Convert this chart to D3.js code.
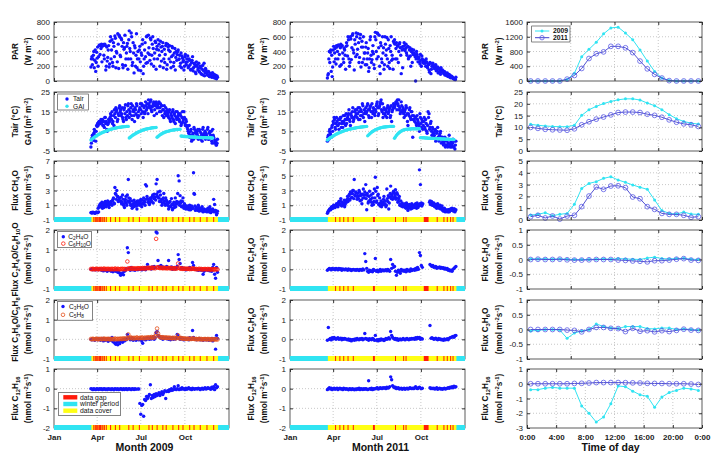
<!DOCTYPE html>
<html><head><meta charset="utf-8">
<script src="https://cdn.jsdelivr.net/npm/d3@7"></script>
<style>body{margin:0;background:#fff}svg{display:block;background:#fff}</style>
</head><body><svg id="c" width="720" height="468"></svg>
<script>
// ---------------- DATA ----------------
const monthTickDays=[0,90,181,273];
const monthTickLabels=["Jan","Apr","Jul","Oct"];
const hourTicks=[0,4,8,12,16,20,24];
const hourTickLabels=["0:00","4:00","8:00","12:00","16:00","20:00","0:00"];

const days09=[77,79,81,83,85,87,89,91,93,95,97,99,101,103,105,107,109,111,113,115,117,119,121,123,125,127,129,131,133,135,137,139,141,143,145,147,149,151,153,155,157,159,161,163,165,167,169,171,173,175,177,179,181,183,185,187,189,191,193,195,197,199,201,203,205,207,209,211,213,215,217,219,221,223,225,227,229,231,233,235,237,239,241,243,245,247,249,251,253,255,257,259,261,263,265,267,269,271,273,275,277,279,281,283,285,287,289,291,293,295,297,299,301,303,305,307,309,311,313,315,317,319,321,323,325,327,329,331,333,335,337,339,341];
const days09b=[78,80,82,84,86,88,90,92,94,96,98,100,102,104,106,108,110,112,114,116,118,120,122,124,126,128,130,132,134,136,138,140,142,144,146,148,150,152,154,156,158,160,162,164,166,168,170,172,174,176,178,180,182,184,186,188,190,192,194,196,198,200,202,204,206,208,210,212,214,216,218,220,222,224,226,228,230,232,234,236,238,240,242,244,246,248,250,252,254,256,258,260,262,264,266,268,270,272,274,276,278,280,282,284,286,288,290,292,294,296,298,300,302,304,306,308,310,312,314,316,318,320,322,324,326,328,330,332,334,336,338,340];
const days11=[78,80,82,84,86,88,90,92,94,96,98,100,102,104,106,108,110,112,114,116,118,120,122,124,126,128,130,132,134,136,138,140,142,144,146,148,150,152,154,156,158,160,162,164,166,168,170,172,174,176,178,180,182,184,186,188,190,192,194,196,198,200,202,204,206,208,210,212,214,216,218,220,222,224,226,228,230,232,234,236,238,240,242,244,246,248,250,252,254,256,258,260,262,264,266,268,270,272,274,276,278,280,282,284,286,288,290,292,294,296,298,300,302,304,306,308,310,312,314,316,318,320,322,324,326,328,330,332,334,336,338,340,342,344,346];
const days11b=[79,81,83,85,87,89,91,93,95,97,99,101,103,105,107,109,111,113,115,117,119,121,123,125,127,129,131,133,135,137,139,141,143,145,147,149,151,153,155,157,159,161,163,165,167,169,171,173,175,177,179,181,183,185,187,189,191,193,195,197,199,201,203,205,207,209,211,213,215,217,219,221,223,225,227,229,231,233,235,237,239,241,243,245,247,249,251,253,255,257,259,261,263,265,267,269,271,273,275,277,279,281,283,285,287,289,291,293,295,297,299,301,303,305,307,309,311,313,315,317,319,321,323,325,327,329,331,333,335,337,339,341,343,345];

const par09=[190,330,300,400,280,130,390,460,330,490,480,500,470,495,300,480,200,270,420,190,540,300,560,200,470,610,180,380,640,170,600,330,560,220,520,450,210,380,510,300,680,400,650,210,520,110,450,350,180,400,300,470,140,350,560,200,420,330,600,250,620,360,580,230,500,440,300,540,160,470,560,500,200,460,400,520,300,250,480,160,500,420,480,260,330,450,200,380,150,400,360,420,300,200,380,340,260,150,330,250,300,340,200,280,150,250,330,180,230,120,260,220,170,130,200,100,160,80,240,110,150,100,80,120,60,90,50,110,70,40,80,30,50];
const par09b=[300,220,350,180,420,250,310,200,480,360,440,260,490,350,500,150,460,320,480,230,600,420,250,520,330,580,400,260,500,620,350,580,470,180,430,620,300,470,160,560,440,300,600,250,380,480,200,640,300,150,420,260,380,500,100,300,520,240,610,380,450,280,560,350,600,200,380,520,430,300,420,350,540,270,470,180,430,360,510,220,460,300,400,180,470,350,250,440,320,280,400,290,350,240,180,310,280,200,360,220,260,180,300,220,160,280,140,240,200,100,200,150,240,120,180,90,210,140,70,170,120,80,130,60,100,70,110,50,90,60,40,70];
const tair09=[-3,1.5,2,4,5,0,8,9,9.5,10,9,10.5,11,8,7,12,10,5,9,11,12,13,15,10,8,14,17,16,11,13,18,16,14,12,10,17,18.5,11,13,19,12,15,19,11,16,13,17,14,18,12,13,17,16,19,15,18,14,20,16,17,21,18,20,16,17.5,19,13,18,20,17,19,20,17,15,18,16,12,14,17,15,14,12,16,10,13,15,11,14,9,12,15,13,11,14,8,12,10,15,9,11,8,6,4,2,5,0,3,1,6,4,5,3,1,6,2,4,0,7,3,5,4,2,7,1,5,3,0,6,2,-1,0,-2,1];
const tair09b=[-1,3,0.5,6,3,5,7.5,8,10,9,11,9.5,8,10,12,9,6,8.5,11,10,14,11,9,13,16,12,15,10,14,17,15,13,17,11,16,14,12,15,18,16,14,17,13,18,15,10,16,19,13,15,16,19,14,18,12,17,15,18,19,14,19,17,21,15,18,20,16,19,14,18,17,15,19,18,13,16,18,15,13,16,13,15,11,14,12,16,10,13,15,11,12,14,10,13,9,15,11,12,8,10,7,5,8,3,6,1,4,7,2,5,4,6,2,5,1,3,6,2,4,1,3,6,1,4,2,5,-1,3,1,0,-2,-1];
const gai09=[0.6,1.0,1.4,1.8,2.1,2.5,2.8,3.1,3.4,3.7,3.9,4.2,4.4,4.6,4.8,5.0,5.2,5.4,5.6,5.8,5.9,6.1,6.2,6.4,6.5,6.6,6.7,6.8,6.9,7.0,7.1,7.1,7.2,7.3,7.3,7.4,7.4,7.5,7.5,7.5,1.6,2.0,2.4,2.8,3.1,3.4,3.7,4.0,4.3,4.5,4.8,5.0,5.2,5.4,5.6,5.8,5.9,6.1,6.2,6.3,6.4,6.5,6.6,6.7,6.8,6.8,6.9,6.9,7.0,2.0,2.4,2.8,3.2,3.5,3.8,4.1,4.3,4.5,4.7,4.9,5.0,5.1,5.3,5.4,5.5,5.6,5.7,5.8,5.8,5.9,5.9,6.0,6.0,6.1,2.6,2.5,2.5,2.4,2.4,2.3,2.3,2.3,2.2,2.2,2.2,2.1,2.1,2.1,2.0,2.0,2.0,2.0,1.9,1.9,1.9,1.9,1.8,1.8,1.8,1.8,1.8,1.7,1.7,1.7,1.7,1.7,1.6,1.6,null,null,null,null,null];
const ch4o09=[0,-0.05,0.05,0,-0.1,0,0.05,0,0.1,0.8,1.2,0.9,0.6,1.3,1.0,1.5,0.8,1.1,1.4,0.7,1.2,1.5,1.0,1.8,1.3,3.4,2.5,3.0,2.2,1.6,2.0,1.5,1.2,2.4,1.0,0.7,1.8,1.3,2.4,4.5,1.5,1.9,1.0,0.6,1.2,1.7,0.9,1.4,0.5,1.1,1.6,1.2,1.8,0.8,1.3,2.0,1.4,3.8,3.6,1.9,1.5,1.1,2.0,1.6,2.2,1.3,2.5,2.1,3.9,4.5,2.8,2.0,2.9,1.5,1.0,1.8,2.6,1.2,2.0,1.6,1.0,0.5,1.4,0.8,1.9,0.4,1.1,0.7,2.0,1.3,1.2,5.0,4.3,2.3,1.6,0.9,2.0,0.6,1.0,0.5,0.8,0.5,0.6,1.0,0.4,0.9,0.6,5.4,2.5,0.3,0.7,0.4,1.0,0.2,0.6,0.3,0.8,0.1,0.5,0.2,0.4,0.1,0.6,0.3,0.8,0,0.2,0.5,1.8,1.1,0.3,-0.3,0.2];
const ch4o09b=[0.02,-0.02,0.03,0,-0.05,0.05,0,0.6,0.9,1.1,0.8,1.4,1.0,0.7,1.2,0.9,1.3,1.6,1.0,1.2,1.4,1.1,1.6,2.0,1.2,2.6,1.8,2.2,1.5,1.9,1.6,2.1,1.4,1.8,1.1,1.5,2.2,1.0,1.6,2.0,1.3,1.0,1.6,1.1,0.8,1.4,1.2,0.9,1.6,1.3,1.0,1.5,1.1,1.7,1.2,1.6,1.0,1.8,2.2,1.4,1.8,1.3,1.9,1.5,2.4,1.9,2.0,1.7,2.5,2.2,2.0,1.5,2.4,1.8,1.3,2.0,1.5,1.0,1.7,1.3,1.2,0.8,1.5,0.9,1.1,0.6,1.4,1.0,0.8,1.5,2.6,1.4,1.0,1.3,0.8,1.5,0.9,1.2,0.7,0.9,0.6,0.9,0.4,0.7,0.5,0.8,0.6,2.6,0.9,0.5,0.5,0.3,0.7,0.4,0.3,0.6,0.2,0.4,0.3,0.2,0.3,0.2,0.4,0.1,0.5,0.2,0.3,0.2,0.1,0.3,0.1,-0.1];
const c2h4o09=[0,0.02,-0.02,0,0.03,-0.03,0.01,0,-0.02,0.02,0,-0.05,0.02,-0.08,-0.03,0,-0.06,-0.1,-0.04,0.01,-0.05,-0.1,-0.04,-0.12,-0.08,-0.05,-0.1,-0.02,-0.15,-0.08,-0.2,-0.3,-0.25,-0.18,-0.28,-0.1,-0.05,0.05,1.1,0.85,0.05,-0.05,0.1,0,-0.03,0.02,-0.05,0,0.03,-0.02,0,0.02,0.05,-0.03,0.05,0,0.1,-0.02,0.08,0.25,0.05,0.08,0.1,0.02,0.12,0.05,0.15,0.08,1.9,1.85,0.45,0.15,0.1,0.2,0.05,0.12,0.08,0.1,0.05,0.15,0.1,0.45,0.05,0.08,0.12,0,0.05,0.1,0.02,0.06,0.15,0.75,0.5,0.3,0.05,0.1,0.02,0.05,0,-0.03,0.05,0,0.02,0.1,0.05,0,0.35,0.2,0.03,0,-0.02,0,-0.05,-0.03,0,-0.05,0.02,-0.25,-0.1,0,-0.03,0,-0.05,0.02,-0.08,0,-0.1,0.1,0.25,-0.25,-0.45,0.1,-0.15];
const c6h10o09=[0.02,0,0.03,0.01,0,0.02,0.03,0,0.01,0.02,0.01,0.03,0,0.02,0.04,0,0.02,0.01,0.03,0,0.02,0,0.03,0.01,0,0.04,0.02,0,0.03,0.01,0,0.02,0.01,0.03,0,0.02,0.01,0,0.4,0.05,0.03,0.05,0.02,0.06,0.04,0.03,0.05,0.02,0.04,0.06,0.05,0.03,0.06,0.04,0.07,0.05,0.03,0.06,0.05,0.08,0.06,0.08,0.05,0.07,0.09,0.06,0.08,0.05,1.55,0.1,0.1,0.08,0.06,0.09,0.07,0.05,0.08,0.06,0.07,0.05,0.06,0.08,0.05,0.07,0.04,0.06,0.05,0.03,0.06,0.04,0.05,0.3,0.08,0.04,0.03,0.05,0.02,0.04,0.03,0.02,0.03,0.02,0.04,0.01,0.03,0.02,0.05,0.03,0.02,0.01,0.02,0,0.01,0.03,0,0.02,-0.01,0.01,0,0.02,0.01,-0.01,0.02,0,0.01,-0.02,0,0.01,-0.01,0,0,0.01,-0.01];
const c3h6o09=[0,-0.03,0.02,0,-0.05,0.03,0,-0.02,0.05,0,-0.05,0,0.05,-0.08,0.02,-0.05,0,0.03,-0.1,0.05,0,-0.05,0.1,-0.12,-0.05,-0.2,-0.25,-0.15,-0.28,-0.1,-0.22,-0.1,-0.05,-0.15,0,-0.08,0.05,-0.02,0.25,0.1,0.05,-0.02,0,0.08,-0.05,0.03,0,-0.05,0.02,0,-0.03,0.05,0,-0.08,-0.2,0.02,0.05,-0.03,0,0.08,0.05,0,0.1,0.02,0.05,0.15,0,0.08,0.35,0.4,0.2,0.15,0.1,0.05,0.12,0,0.08,0.05,0.1,0.03,0.05,0,0.08,-0.02,0.05,0.1,0,0.05,0.02,0.08,0.25,0.15,0.05,0,0.08,0.02,0.05,-0.03,0,0.05,0,0.05,-0.02,0.08,0.03,0,0.45,0.1,0.02,0,-0.02,0.03,0,0.05,-0.03,0,0.02,-0.05,0,0.03,-0.03,0,0.02,-0.05,0,-0.02,0.05,-0.08,0,0.05,-0.5,0.2,0.05];
const c5h809=[0.02,0,0.03,0.01,0,0.02,0.03,0,0.01,0.02,0.01,0.03,0,0.02,0.04,0,0.02,0.01,0.03,0,0.02,0,0.03,0.01,0,0.04,0.02,0,0.03,0.01,0.02,0.04,0.01,0.03,0.05,0.02,0.04,0.03,0.05,0.25,0.08,0.05,0.1,0.06,0.04,0.08,0.05,0.07,0.1,0.06,0.05,0.08,0.06,0.1,0.07,0.05,0.09,0.06,0.08,0.1,0.08,0.1,0.07,0.12,0.09,0.11,0.08,0.15,0.3,0.55,0.3,0.15,0.12,0.1,0.08,0.11,0.09,0.07,0.1,0.08,0.07,0.09,0.06,0.08,0.05,0.07,0.06,0.08,0.05,0.06,0.08,0.2,0.06,0.05,0.07,0.04,0.05,0.03,0.04,0.02,0.03,0.02,0.04,0.01,0.03,0.02,0.05,0.03,0.02,0.01,0.02,0,0.01,0.03,0,0.02,-0.01,0.01,0,0.02,0.01,-0.01,0.02,0,0.01,-0.02,0,0.01,-0.01,0,0,0.01,-0.01];
const c12h1609=[0,-0.02,-0.05,0,-0.03,-0.05,0,-0.02,-0.04,0,-0.03,0,-0.05,-0.02,0,-0.04,-0.01,-0.05,0,-0.03,-0.02,-0.05,0,-0.03,-0.06,0,-0.02,-0.04,0,-0.05,-0.03,0,-0.02,-0.05,0,-0.04,-0.02,0,-0.05,-0.01,0,-0.03,-0.05,0,-0.02,-0.04,0,-0.03,null,-0.02,-0.02,-0.75,-1.3,-0.85,-0.8,-1.4,-0.55,-0.6,-0.4,-0.5,-0.4,-0.3,0.2,-0.5,-0.35,-0.45,-0.3,-0.4,-0.25,-0.35,-0.3,-0.2,-0.35,-0.25,-0.15,-0.3,-0.2,-0.1,-0.5,-0.15,-0.1,-0.15,-0.05,-0.1,0,-0.08,-0.05,0.1,-0.03,-0.05,0,0.15,-0.05,0,-0.03,0.05,-0.02,0,-0.05,0.02,-0.03,0,0.05,-0.02,0,-0.05,0.02,0,-0.03,0,0,-0.02,0.03,0,-0.05,0,0.02,-0.03,0,0.05,-0.02,0,0.05,0.02,0,-0.03,0.08,0,0.1,-0.05,0.2,0.05,0.1];

const par11=[40,100,400,390,130,60,420,260,440,230,460,300,480,200,500,470,380,250,420,160,520,340,560,200,600,290,620,420,150,500,650,360,640,250,580,190,540,460,300,380,460,220,380,130,300,600,250,400,370,170,660,400,650,330,620,100,480,250,380,160,600,350,590,200,440,170,400,280,300,540,560,300,520,480,250,500,450,100,420,470,520,410,500,350,470,320,450,200,430,380,420,360,0,400,330,300,260,360,200,300,280,260,240,300,200,230,150,250,100,200,240,200,180,220,150,190,120,170,90,140,150,120,130,100,80,110,60,90,50,70,60,40,30,20,50];
const par11b=[80,300,250,420,350,190,470,380,300,480,400,490,360,450,220,480,300,440,350,470,480,600,300,250,570,450,640,380,560,330,600,430,520,320,630,460,250,600,380,220,520,300,440,180,560,350,290,480,220,600,560,300,640,450,200,520,300,600,450,220,500,420,300,560,250,480,600,350,160,520,500,440,300,470,400,520,350,460,180,430,480,440,380,460,300,420,340,400,250,360,380,330,300,360,260,320,230,280,340,250,240,280,200,260,180,220,120,240,160,210,200,170,210,140,180,110,160,130,180,120,120,100,80,110,70,90,60,80,45,60,40,30,35,20];
const tair11=[0,3,5,4,2,8,10,12,7,9,10,8,6,11,12,9,7,10,13,8,9,12,14,11,8,13,15,10,12,16,14,12,17,15,11,16,13,18,14,10,17,15,19,13,16,18,12,15,17,14,16,18,20,13,17,19,21,15,12,17,14,16,12,18,15,17,13,10,16,19,17,19,20,21,18,16,14,20,15,17,12,16,18,14,8,13,17,11,15,2,13,10,12,8,11,9,5,12,7,10,8,12,6,9,4,15,14,7,10,3,6,2,5,0,4,7,1,3,5,-1,2,-2,0,-3,1,-2,-1,3,-3,0,-2,1,-3,-4,0];
const tair11b=[2,1,6,3,7,5,9,11,6,12,8,11,9,12,7,10,13,9,11,14,11,13,16,10,14,12,17,11,15,13,16,14,11,17,13,15,19,12,16,15,14,18,16,12,17,15,19,14,16,13,15,19,17,14,18,20,16,19,14,16,13,15,17,14,16,12,18,15,17,18,18,20,16,19,21,17,15,18,16,14,15,13,17,10,14,16,12,15,13,11,11,12,9,13,10,8,14,9,11,6,10,7,11,5,8,12,6,9,5,7,4,3,6,1,5,2,0,4,2,1,0,-1,2,-2,0,-3,1,-2,-1,-3,-1,-3,0,-2];
const gai11=[0.6,1.0,1.4,1.7,2.0,2.3,2.6,2.9,3.2,3.5,3.7,4.0,4.2,4.4,4.6,4.8,5.0,5.2,5.4,5.5,5.7,5.8,6.0,6.1,6.2,6.3,6.4,6.5,6.6,6.7,6.8,6.9,7.0,7.0,7.1,7.2,7.2,7.3,7.3,7.4,7.4,7.5,2.7,3.2,3.7,4.1,4.5,4.9,5.2,5.5,5.8,6.0,6.2,6.4,6.6,6.7,6.9,7.0,7.1,7.2,7.2,7.3,7.3,7.4,7.4,7.5,7.5,7.5,7.5,7.5,1.5,2.2,2.9,3.5,4.0,4.4,4.8,5.1,5.4,5.6,5.8,5.9,6.0,6.1,6.1,6.2,6.2,6.2,6.3,6.3,6.3,6.3,6.3,6.3,6.3,6.3,6.3,1.8,1.8,1.7,1.7,1.7,1.6,1.6,1.6,1.5,1.5,1.5,1.4,1.4,1.4,1.4,1.3,1.3,1.3,1.2,1.2,1.2,1.2,1.1,1.1,1.1,1.1,1.0,1.0,1.0,1.0,0.9,0.9,0.9,0.9,0.9,0.8,null,null];
const ch4o11=[-0.1,0.2,0.4,0.5,0.7,0.6,0.8,0.9,0.7,1.0,1.0,0.8,1.5,1.2,1.9,0.9,1.1,1.3,0.8,1.6,1.4,2.2,1.9,2.5,2.8,2.0,2.6,3.0,4.5,2.3,2.7,1.8,2.2,3.0,1.6,2.5,1.2,2.0,2.4,2.8,3.8,0.4,2.3,1.5,2.9,1.8,1.4,2.0,1.1,3.2,4.8,1.4,3.4,2.5,1.2,0.9,1.6,1.0,1.4,2.2,1.2,0.8,3.2,1.5,0.5,2.1,3.6,2.4,1.8,2.9,2.6,3.1,2.0,2.5,1.5,2.2,1.1,0.9,1.3,1.0,0.8,1.2,0.6,1.1,0.3,1.0,0.9,0.5,1.2,0.8,1.0,0.7,1.2,0.6,1.1,0.9,5.8,3.8,1.3,1.1,null,null,null,null,null,null,null,1.6,1.2,1.4,1.0,1.3,0.8,1.1,0.6,1.2,0.7,0.9,0.5,0.8,0.4,0.2,0.6,0.1,0.3,0.2,0.4,0.1,0.3,0.5,0.6,0.3,0.5,0.1,0.4];
const ch4o11b=[0.1,0.3,0.5,0.4,0.8,0.6,1.0,0.7,0.9,1.2,0.9,1.3,1.1,1.6,1.0,1.4,1.2,1.7,1.1,1.5,1.8,1.5,2.3,1.7,2.6,2.1,3.0,1.9,2.4,2.8,2.2,2.6,1.9,2.8,2.3,1.7,2.5,3.2,2.0,2.4,1.9,2.6,1.3,2.2,1.7,2.4,1.0,2.6,1.5,2.0,2.9,1.6,2.3,1.1,2.0,1.3,0.8,1.2,1.8,1.1,1.6,1.0,1.9,2.3,1.3,2.6,1.9,2.2,2.7,2.0,2.3,1.8,2.7,1.4,1.9,1.0,1.6,1.2,0.8,1.1,1.0,0.7,1.3,0.9,0.6,1.1,0.8,1.0,0.6,0.9,0.8,1.1,0.9,1.3,0.7,1.0,1.2,1.0,0.9,1.2,null,null,null,null,null,null,1.4,1.1,1.5,1.0,1.2,0.9,1.0,0.7,1.1,0.8,0.6,1.0,0.7,0.9,0.3,0.5,0.2,0.4,0.3,0.1,0.4,0.2,0.5,0.3,0.4,0.2,0.5,0.3];
const c2h4o11=[-0.05,0,0.05,0.02,-0.03,0.05,0,0.03,-0.02,0.05,0.02,-0.03,0.05,0,0.03,-0.05,0.02,0,-0.03,0.02,0,-0.05,0.02,-0.03,0,-0.06,-0.02,0,-0.04,-0.02,-0.05,0,-0.03,-0.06,0,-0.02,-0.05,0.02,-0.03,0.8,0.4,0.05,-0.1,-0.15,-0.05,-0.1,-0.08,-0.12,0,-0.05,0.55,-0.1,-0.05,-0.12,-0.08,0,-0.1,-0.05,-0.03,-0.08,-0.05,-0.02,-0.08,0,-0.05,-0.1,0.5,0.05,0.25,0.1,0.15,-0.1,-0.3,-0.15,-0.05,-0.1,-0.2,0,-0.08,-0.05,-0.1,-0.05,-0.12,0,-0.08,-0.05,-0.1,0.02,-0.06,-0.03,0,-0.05,0.05,-0.02,0.1,0,0.85,0.7,0.2,0.1,null,null,null,null,null,null,null,0.25,0.2,0.15,0.2,0.1,0.12,0.15,0.05,0.1,0.08,0.12,0.05,0.1,0.05,0.08,0.02,0.06,0,0.04,-0.05,-0.02,-0.08,-0.05,-0.1,0,0.05,0.1,0.15];
const c3h6o11=[-0.05,0.6,0,0.05,-0.03,0.08,0.02,0.1,0.05,0,0.05,0.08,0,0.03,0.06,-0.02,0.05,0,0.04,0.02,0,-0.03,0.02,-0.05,0,-0.08,-0.02,0,-0.05,0.02,-0.03,0.05,0,-0.02,0.03,0,0.05,-0.02,0.02,0.3,0.05,0,0.02,-0.05,0.03,0,-0.02,0.05,0.02,-0.05,0.2,-0.05,-0.02,-0.08,0,-0.05,0.02,-0.03,0,-0.06,-0.02,0.05,0,0.03,0.08,0.02,0.4,0.2,0.1,0.05,0,0.05,-0.02,0.03,-0.05,0,0.02,-0.03,0,0.05,0,-0.03,0.02,0.05,0,-0.02,0.03,0,0.05,0.02,0.05,0,0.08,0.02,0.1,0.05,0.1,0,0.05,0.02,null,null,null,null,null,null,null,0.7,0.05,0.08,0.05,0,0.03,0.06,0,-0.02,0.04,0,0.02,-0.03,0,-0.05,0.02,-0.03,0,0.03,-0.02,0.05,0.08,0.1,0.12,0.15,0.1,0.18,0.2];
const c12h1611=[-0.05,0,0.05,-0.02,0.03,-0.05,0,0.02,-0.03,0,0.02,-0.05,0,0.03,-0.02,0,-0.05,0.02,0,-0.03,0,-0.03,-0.06,0,-0.02,-0.05,0,-0.03,-0.06,-0.02,-0.05,0,-0.03,0.02,-0.05,0,-0.02,-0.04,0,-0.03,0,-0.02,-0.05,0.4,0,-0.03,0.02,-0.05,0,-0.02,0,0.03,0.05,-0.02,0,0.05,0.02,0,0.05,0.03,0.05,0,0.08,0.03,0.05,0.1,0.6,0.45,0.15,0.1,0.05,0.08,0,0.03,0.05,-0.02,0,0.03,-0.03,0,0.02,-0.03,0,0.03,-0.02,0,0.05,0.02,0,0.03,0,0.05,0.1,0.02,0,0.05,0.08,0.03,0,0.02,null,null,null,null,null,null,null,0.05,0,0.03,0,0.03,-0.02,0,0.05,-0.03,0,0.02,-0.02,0,-0.03,0,0.02,-0.02,0,0.03,0.05,0.02,0.08,0.05,0.1,0.05,0.12,0.08,0.1];

// data coverage bands: data-cover bounds (outside = winter period) and data gaps (start day, length in days)
const cover09=[78,342];
const cover11=[79,347];
const gapStart09=[82,85,87,89,91,94,96,99,101,104,108,117,127,136,155,164,177,197,204,214,226,233,247,259,268,282,291,304,318,332];
const gapLen09=[1,1,1,1,1,1,1,1,1,1,1,1,2,1,1,1,2,1,1,1,1,1,1,1,1,1,1,2,1,1];
const gapStart11=[94,103,111,120,131,173,219,236,241,279,306,320,327,334,339];
const gapLen11=[1,1,1,1,1,4,2,1,1,10,1,1,1,1,1];

// diurnal cycles
const hours=[0.5,1.5,2.5,3.5,4.5,5.5,6.5,7.5,8.5,9.5,10.5,11.5,12.5,13.5,14.5,15.5,16.5,17.5,18.5,19.5,20.5,21.5,22.5,23.5];
const parD09=[0,0,0,0,0,40,210,660,860,1050,1280,1440,1460,1300,1120,840,540,260,80,15,0,0,0,0];
const parD11=[0,0,0,0,0,50,150,340,610,740,790,940,940,900,770,540,330,180,80,10,0,0,0,0];
const tairD09=[11.3,10.9,10.6,10.4,10.3,10.3,10.9,15.1,17.5,18.9,20.1,21.0,21.7,22.1,22.1,21.6,20.3,19.2,17.5,15.4,13.7,12.5,11.8,11.4];
const tairD11=[10.0,9.6,9.2,9.0,8.9,8.8,9.4,11.1,12.4,13.5,14.4,15.3,16.3,16.5,16.5,16.3,15.6,15.1,14.3,13.2,12.2,11.5,11.1,10.4];
const ch4oD09=[0.42,0.48,0.62,0.37,0.48,0.56,1.33,2.68,3.1,3.25,3.53,3.67,3.39,3.19,2.97,2.77,2.6,1.7,0.8,0.56,0.5,0.68,0.5,0.48];
const ch4oD11=[0.28,0.4,0.17,0.34,0.08,0.34,0.4,1.13,2.03,2.8,2.6,2.88,2.9,2.74,1.95,1.8,1.13,0.9,0.56,0.48,0.48,0.4,0.23,0.28];
const c2h4oD09=[0.02,0.02,0.02,0.01,0.02,0.01,0,0,0,0.01,0.02,0.01,0.03,0.02,0.01,0,0.05,0.08,0.03,0.02,0.03,0.04,0.01,0];
const c2h4oD11=[0,0.01,0,0,0.01,-0.01,-0.02,-0.02,-0.01,0,0,0,-0.02,-0.03,-0.05,-0.06,-0.08,-0.04,-0.04,-0.02,0.01,0.03,-0.02,-0.03];
const c3h6oD09=[-0.05,-0.03,0,0,-0.02,-0.3,-0.12,-0.05,0,0.19,0.1,0.05,0.03,0.1,0.1,0.1,0.03,0.02,0.05,0.05,0,0.02,0,-0.02];
const c3h6oD11=[0,0,0,0,0,-0.02,-0.03,-0.08,0,0.07,0.07,0.04,0.03,-0.07,0.04,-0.06,-0.04,-0.08,-0.04,-0.07,-0.03,0.01,-0.02,-0.03];
const c12h16D09=[-0.4,-0.4,-0.3,-0.25,-0.3,-0.3,-0.3,-1.5,-2.0,-2.6,-2.25,-1.35,-0.15,-0.2,-0.5,-0.75,-0.85,-1.6,-0.9,-0.6,-0.45,-0.3,-0.35,-0.45];
const c12h16D11=[0,0,0,0,0,0,0.02,0.03,0.05,0.08,0.08,0.08,0.08,0.07,0.06,0.05,0.03,0.02,0.02,0,0,0,-0.02,-0.05];

// ---------------- DRAWING ----------------
const FONT='"Liberation Sans", Arial, Helvetica, sans-serif';
const BLUE="#1414ff", CYAN="#30e4f2", RED="#ff1a0a", ORANGE="#e4501c", YEL="#ffff14";
const D_BLUE="#4040cc";
const svg=d3.select("#c");
const colX=[54,290,527], colW=175, rowY=[22,92,161,230,300,369], rowH=59;
const xDay=d3.scaleLinear().domain([0,365]).range([0,colW]);
const xHour=d3.scaleLinear().domain([0,24]).range([0,colW]);

function rich(t,str){
  const fs=+t.attr("font-size");
  str.split(/(_\{[^}]*\}|\^\{[^}]*\})/).filter(s=>s.length).forEach(p=>{
    if(p.startsWith("_{")) t.append("tspan").attr("font-size",fs*0.72).attr("baseline-shift",-fs*0.22).text(p.slice(2,-1));
    else if(p.startsWith("^{")) t.append("tspan").attr("font-size",fs*0.72).attr("baseline-shift",fs*0.42).text(p.slice(2,-1));
    else t.append("tspan").text(p);
  });
}

function panel(col,row,cfg){
  const g=svg.append("g").attr("transform",`translate(${colX[col]},${rowY[row]})`);
  const x=cfg.x, y=d3.scaleLinear().domain(cfg.yDom).range([rowH,0]);
  const gg=g.append("g").attr("stroke","#b0b0b0").attr("stroke-width",0.7).attr("stroke-dasharray","1,2");
  cfg.yTicks.filter(v=>v>cfg.yDom[0]&&v<cfg.yDom[1]).forEach(v=>gg.append("line").attr("x1",0).attr("x2",colW).attr("y1",y(v)).attr("y2",y(v)));
  cfg.xGrid.forEach(v=>gg.append("line").attr("x1",x(v)).attr("x2",x(v)).attr("y1",0).attr("y2",rowH));
  return {g,x,y,cfg,col,row};
}

function finish(p){
  const {g,x,y,cfg}=p;
  g.append("rect").attr("width",colW).attr("height",rowH).attr("fill","none").attr("stroke","#333").attr("stroke-width",0.8);
  const ay=g.append("g").call(d3.axisLeft(y).tickValues(cfg.yTicks).tickSizeInner(-3).tickSizeOuter(0).tickPadding(4).tickFormat(d=>String(d)));
  ay.select(".domain").remove();
  ay.selectAll("line").attr("stroke","#333");
  ay.selectAll("text").attr("font-size",8).attr("fill","#222").attr("font-family",FONT);
  const ar=g.append("g").attr("transform",`translate(${colW},0)`).call(d3.axisRight(y).tickValues(cfg.yTicks).tickSizeInner(-3).tickSizeOuter(0).tickFormat(""));
  ar.select(".domain").remove(); ar.selectAll("line").attr("stroke","#333");
  const at=g.append("g").call(d3.axisTop(x).tickValues(cfg.xTicks).tickSizeInner(-3).tickSizeOuter(0).tickFormat(""));
  at.select(".domain").remove(); at.selectAll("line").attr("stroke","#333");
  const ab=g.append("g").attr("transform",`translate(0,${rowH})`).call(d3.axisBottom(x).tickValues(cfg.xTicks).tickSizeInner(-3).tickSizeOuter(0).tickPadding(6).tickFormat(cfg.xLabels?((d,i)=>cfg.xLabels[i]):""));
  ab.select(".domain").remove(); ab.selectAll("line").attr("stroke","#333");
  ab.selectAll("text").attr("font-size",8).attr("font-weight","bold").attr("fill","#222").attr("font-family",FONT);
}

function dots(p,days,vals,color,r,open){
  const data=days.map((d,i)=>[d,vals[i]]).filter(v=>v[1]!=null);
  const s=p.g.append("g").selectAll("circle").data(data).join("circle")
    .attr("cx",d=>p.x(d[0])).attr("cy",d=>p.y(d[1])).attr("r",r);
  if(open) s.attr("fill","none").attr("stroke",color).attr("stroke-width",0.8);
  else s.attr("fill",color);
}

function band(p,cover,gs,gl){
  const g=p.g.append("g"), by=rowH-3, bh=5, x=p.x;
  g.append("rect").attr("x",0).attr("y",by).attr("width",colW).attr("height",bh).attr("fill",CYAN);
  g.append("rect").attr("x",x(cover[0])).attr("y",by).attr("width",x(cover[1])-x(cover[0])).attr("height",bh).attr("fill",YEL);
  gs.forEach((s,i)=>g.append("rect").attr("x",x(s)).attr("y",by).attr("width",Math.max(1,x(s+gl[i])-x(s))).attr("height",bh).attr("fill",RED));
}

function diurnal(p,v09,v11){
  const line=d3.line().x((d,i)=>p.x(hours[i])).y(d=>p.y(d));
  p.g.append("path").attr("d",line(v09)).attr("fill","none").attr("stroke",CYAN).attr("stroke-width",1);
  p.g.append("g").selectAll("circle").data(v09).join("circle").attr("cx",(d,i)=>p.x(hours[i])).attr("cy",d=>p.y(d)).attr("r",1.5).attr("fill",CYAN);
  p.g.append("path").attr("d",line(v11)).attr("fill","none").attr("stroke",D_BLUE).attr("stroke-width",0.9);
  p.g.append("g").selectAll("circle").data(v11).join("circle").attr("cx",(d,i)=>p.x(hours[i])).attr("cy",d=>p.y(d)).attr("r",2.4).attr("fill","none").attr("stroke","#5a5ae6").attr("stroke-width",0.8);
}

function yLabel(col,row,lines){
  const cx=colX[col], cy=rowY[row]+rowH/2;
  const offs=col===2?(lines.length===2?[42,28]:[28]):(lines.length===2?[39,26]:[26]);
  lines.forEach((s,i)=>{
    const t=svg.append("text").attr("transform",`translate(${cx-offs[i]+3},${cy}) rotate(-90)`)
      .attr("text-anchor","middle").attr("font-size",8.2).attr("font-weight","bold").attr("font-family",FONT).attr("fill","#111");
    rich(t,s);
  });
}

function legendBox(p,x0,y0,w,h){
  return p.g.append("rect").attr("x",x0).attr("y",y0).attr("width",w).attr("height",h).attr("fill","#fff").attr("stroke","#333").attr("stroke-width",0.6);
}
function legText(p,x,y,str,fs,bold){
  const t=p.g.append("text").attr("x",x).attr("y",y+fs*0.35).attr("font-size",fs).attr("font-family",FONT).attr("fill","#111");
  if(bold) t.attr("font-weight","bold");
  rich(t,str);
}

const NMOL="(nmol m^{-2}s^{-1})";
const dayCfg=(yDom,yTicks,last)=>({x:xDay,yDom,yTicks,xTicks:monthTickDays,xGrid:monthTickDays.slice(1),xLabels:last?monthTickLabels:null});
const hourCfg=(yDom,yTicks,last)=>({x:xHour,yDom,yTicks,xTicks:last?hourTicks:[0,6,12,18,24],xGrid:last?[4,8,12,16,20]:[6,12,18],xLabels:last?hourTickLabels:null});

// ---- yearly columns ----
[[0,days09,days09b,par09,par09b,tair09,tair09b,gai09,ch4o09,ch4o09b,cover09,gapStart09,gapLen09],
 [1,days11,days11b,par11,par11b,tair11,tair11b,gai11,ch4o11,ch4o11b,cover11,gapStart11,gapLen11]].forEach(([col,days,daysb,par,parb,tair,tairb,gai,ch4o,ch4ob,cov,gs,gl])=>{
  let p=panel(col,0,dayCfg([0,800],[0,200,400,600,800]));
  dots(p,days,par,BLUE,1.7); dots(p,daysb,parb,BLUE,1.7); finish(p);
  p=panel(col,1,dayCfg([-5,25],[-5,5,15,25]));
  dots(p,days,tair,BLUE,1.7); dots(p,daysb,tairb,BLUE,1.7); dots(p,days,gai,CYAN,1.7); finish(p);
  if(col===0){
    legendBox(p,3.7,2,30.6,16);
    p.g.append("circle").attr("cx",13).attr("cy",7).attr("r",1.7).attr("fill",BLUE);
    p.g.append("circle").attr("cx",13).attr("cy",14.3).attr("r",1.7).attr("fill",CYAN);
    legText(p,19,7,"Tair",6.6); legText(p,19,14.3,"GAI",6.6);
  }
  p=panel(col,2,dayCfg([-1,7],[-1,1,3,5,7]));
  dots(p,days,ch4o,BLUE,1.7); dots(p,daysb,ch4ob,BLUE,1.7); finish(p); band(p,cov,gs,gl);
});

// 2009 flux rows 3-5
let p=panel(0,3,dayCfg([-1,2],[-1,0,1,2]));
dots(p,days09,c2h4o09,BLUE,1.7); dots(p,days09,c6h10o09,RED,1.8,true); finish(p); band(p,cover09,gapStart09,gapLen09);
legendBox(p,3.3,1.7,34.4,15.6);
p.g.append("circle").attr("cx",9.3).attr("cy",6.8).attr("r",1.7).attr("fill",BLUE);
p.g.append("circle").attr("cx",9.3).attr("cy",13.6).attr("r",1.8).attr("fill","none").attr("stroke",RED).attr("stroke-width",0.8);
legText(p,14.3,6.8,"C_{2}H_{4}O",6.6); legText(p,14.3,13.6,"C_{6}H_{10}O",6.6);

p=panel(0,4,dayCfg([-1,2],[-1,0,1,2]));
dots(p,days09,c3h6o09,BLUE,1.7); dots(p,days09,c5h809,ORANGE,1.8,true); finish(p); band(p,cover09,gapStart09,gapLen09);
legendBox(p,3.3,1.7,35.4,18.5);
p.g.append("circle").attr("cx",9).attr("cy",6.5).attr("r",1.7).attr("fill",BLUE);
p.g.append("circle").attr("cx",9).attr("cy",14.8).attr("r",1.8).attr("fill","none").attr("stroke",ORANGE).attr("stroke-width",0.8);
legText(p,15,6.5,"C_{3}H_{6}O",6.6); legText(p,15,14.8,"C_{5}H_{8}",6.6);

p=panel(0,5,dayCfg([-2,1],[-2,-1,0,1],true));
dots(p,days09,c12h1609,BLUE,1.7); finish(p); band(p,cover09,gapStart09,gapLen09);
legendBox(p,4.3,23.7,62.4,22.6);
[["data gap",RED],["winter period",CYAN],["data cover",YEL]].forEach(([s,c],i)=>{
  const yy=28.3+i*6.7;
  p.g.append("rect").attr("x",9.3).attr("y",yy-2.2).attr("width",14).attr("height",4.4).attr("fill",c);
  legText(p,26,yy,s,6.8);
});

// 2011 flux rows 3-5
p=panel(1,3,dayCfg([-1,2],[-1,0,1,2]));
dots(p,days11,c2h4o11,BLUE,1.7); finish(p); band(p,cover11,gapStart11,gapLen11);
p=panel(1,4,dayCfg([-1,2],[-1,0,1,2]));
dots(p,days11,c3h6o11,BLUE,1.7); finish(p); band(p,cover11,gapStart11,gapLen11);
p=panel(1,5,dayCfg([-2,1],[-2,-1,0,1],true));
dots(p,days11,c12h1611,BLUE,1.7); finish(p); band(p,cover11,gapStart11,gapLen11);

// ---- diurnal column ----
p=panel(2,0,hourCfg([0,1600],[0,400,800,1200,1600])); diurnal(p,parD09,parD11); finish(p);
legendBox(p,4.7,4,38.3,16);
[[CYAN,"2009",false],["#5a5ae6","2011",true]].forEach(([c,s,o],i)=>{
  const yy=9+i*6.7;
  p.g.append("line").attr("x1",8).attr("x2",22.3).attr("y1",yy).attr("y2",yy).attr("stroke",o?D_BLUE:CYAN).attr("stroke-width",1);
  const m=p.g.append("circle").attr("cx",15).attr("cy",yy).attr("r",o?2.2:1.5);
  if(o) m.attr("fill","none").attr("stroke",c).attr("stroke-width",0.8); else m.attr("fill",c);
  legText(p,26,yy,s,6.8,true);
});
p=panel(2,1,hourCfg([0,25],[0,5,10,15,20,25])); diurnal(p,tairD09,tairD11); finish(p);
p=panel(2,2,hourCfg([0,5],[0,1,2,3,4,5])); diurnal(p,ch4oD09,ch4oD11); finish(p);
p=panel(2,3,hourCfg([-1,1],[-1,-0.5,0,0.5,1])); diurnal(p,c2h4oD09,c2h4oD11); finish(p);
p=panel(2,4,hourCfg([-1,1],[-1,-0.5,0,0.5,1])); diurnal(p,c3h6oD09,c3h6oD11); finish(p);
p=panel(2,5,hourCfg([-3,1],[-3,-2,-1,0,1],true)); diurnal(p,c12h16D09,c12h16D11); finish(p);

// ---- y labels ----
const labels=[
 [["PAR","(W m^{-2})"],["Tair (°C)","GAI (m^{2} m^{-2})"],["Flux CH_{4}O",NMOL],["Flux C_{2}H_{4}O/C_{6}H_{10}O",NMOL],["Flux C_{3}H_{6}O/C_{5}H_{8}",NMOL],["Flux C_{12}H_{16}",NMOL]],
 [["PAR","(W m^{-2})"],["Tair (°C)","GAI (m^{2} m^{-2})"],["Flux CH_{4}O",NMOL],["Flux C_{2}H_{4}O",NMOL],["Flux C_{3}H_{6}O",NMOL],["Flux C_{12}H_{16}",NMOL]],
 [["PAR","(W m^{-2})"],["Tair (°C)"],["Flux CH_{4}O",NMOL],["Flux C_{2}H_{4}O",NMOL],["Flux C_{3}H_{6}O",NMOL],["Flux C_{12}H_{16}",NMOL]]
];
labels.forEach((col,ci)=>col.forEach((l,ri)=>yLabel(ci,ri,l)));

// ---- x labels ----
[["Month 2009",colX[0]+colW/2+3],["Month 2011",colX[1]+colW/2+3],["Time of day",colX[2]+colW/2-4]].forEach(([s,cx])=>{
  svg.append("text").attr("x",cx).attr("y",451).attr("text-anchor","middle").attr("font-size",10.5).attr("font-weight","bold").attr("font-family",FONT).attr("fill","#111").text(s);
});
</script></body></html>
